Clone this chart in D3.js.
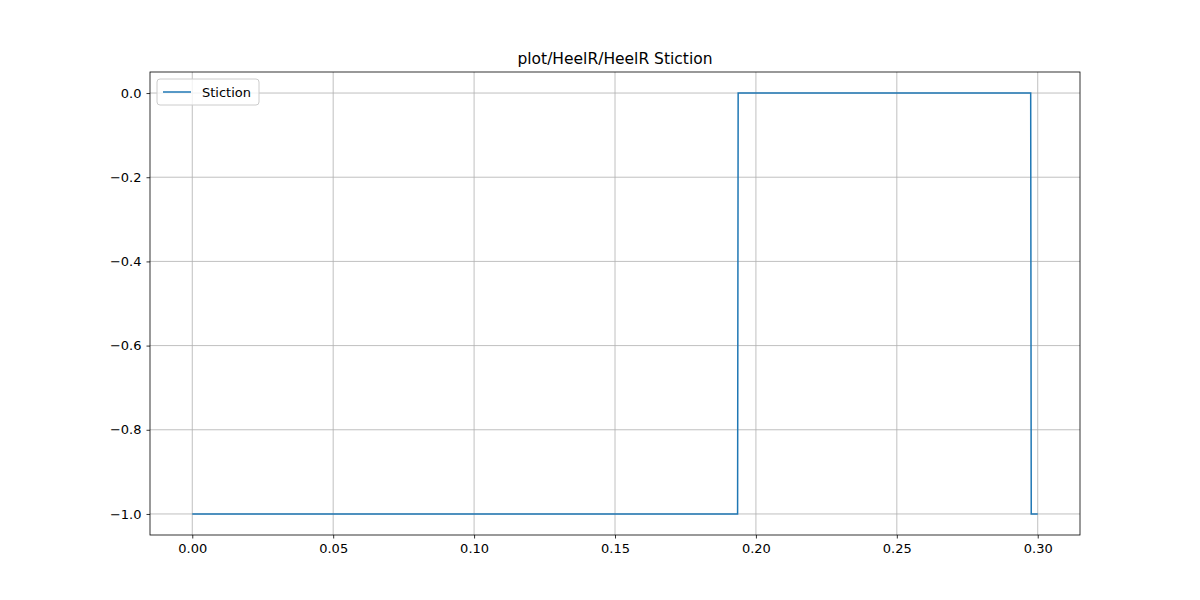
<!DOCTYPE html>
<html><head><meta charset="utf-8">
<script src="https://cdn.jsdelivr.net/npm/d3@7"></script>
<style>body{margin:0;background:#fff}text{font-family:"DejaVu Sans",sans-serif}</style>
</head><body><svg id="c" width="1200" height="600"></svg>
<script>
const times = [0, 0.1935, 0.1937, 0.2975, 0.2977, 0.30];
const values = [-1, -1, 0, 0, -1, -1];
const xTicks = [0, 0.05, 0.10, 0.15, 0.20, 0.25, 0.30];
const yTicks = [0, -0.2, -0.4, -0.6, -0.8, -1.0];
const seriesName = "Stiction";
const title = "plot/HeelR/HeelR Stiction";

const m = {left: 150, right: 1080, top: 72, bottom: 535};
const svg = d3.select("#c");
const x = d3.scaleLinear().domain([-0.015, 0.315]).range([m.left, m.right]);
const y = d3.scaleLinear().domain([-1.05, 0.05]).range([m.bottom, m.top]);

// grid
svg.append("g").selectAll("line").data(xTicks).join("line")
  .attr("x1", d => x(d)).attr("x2", d => x(d)).attr("y1", m.top).attr("y2", m.bottom)
  .attr("stroke", "#b0b0b0").attr("stroke-width", 0.8);
svg.append("g").selectAll("line").data(yTicks).join("line")
  .attr("y1", d => y(d)).attr("y2", d => y(d)).attr("x1", m.left).attr("x2", m.right)
  .attr("stroke", "#b0b0b0").attr("stroke-width", 0.8);

const fmtY = d => (d < 0 ? "\u2212" : "") + Math.abs(d).toFixed(1);
const xa = svg.append("g").attr("transform", `translate(0,${m.bottom})`)
  .call(d3.axisBottom(x).tickValues(xTicks).tickFormat(d3.format(".2f")).tickSize(3.5).tickPadding(5));
const ya = svg.append("g").attr("transform", `translate(${m.left},0)`)
  .call(d3.axisLeft(y).tickValues(yTicks).tickFormat(fmtY).tickSize(3.5).tickPadding(5));
[xa, ya].forEach(a => {
  a.select(".domain").remove();
  a.selectAll("text").attr("font-size", 13).attr("fill", "#000");
  a.selectAll("line").attr("stroke", "#000").attr("stroke-width", 0.8);
});

const line = d3.line().x((d, i) => x(times[i])).y(d => y(d));
svg.append("path").datum(values).attr("d", line)
  .attr("fill", "none").attr("stroke", "#1f77b4").attr("stroke-width", 1.5);

svg.append("rect").attr("x", m.left).attr("y", m.top)
  .attr("width", m.right - m.left).attr("height", m.bottom - m.top)
  .attr("fill", "none").attr("stroke", "#000").attr("stroke-width", 0.8);

svg.append("text").attr("x", (m.left + m.right) / 2).attr("y", 64)
  .attr("text-anchor", "middle").attr("font-size", 15.5).text(title);

// legend
const lg = svg.append("g").attr("transform", "translate(157,79)");
lg.append("rect").attr("width", 102).attr("height", 26).attr("rx", 3)
  .attr("fill", "#fff").attr("fill-opacity", 0.8).attr("stroke", "#ccc");
lg.append("line").attr("x1", 6).attr("x2", 34).attr("y1", 13).attr("y2", 13)
  .attr("stroke", "#1f77b4").attr("stroke-width", 1.5);
lg.append("text").attr("x", 45).attr("y", 17.5).attr("font-size", 13).text(seriesName);
</script></body></html>
